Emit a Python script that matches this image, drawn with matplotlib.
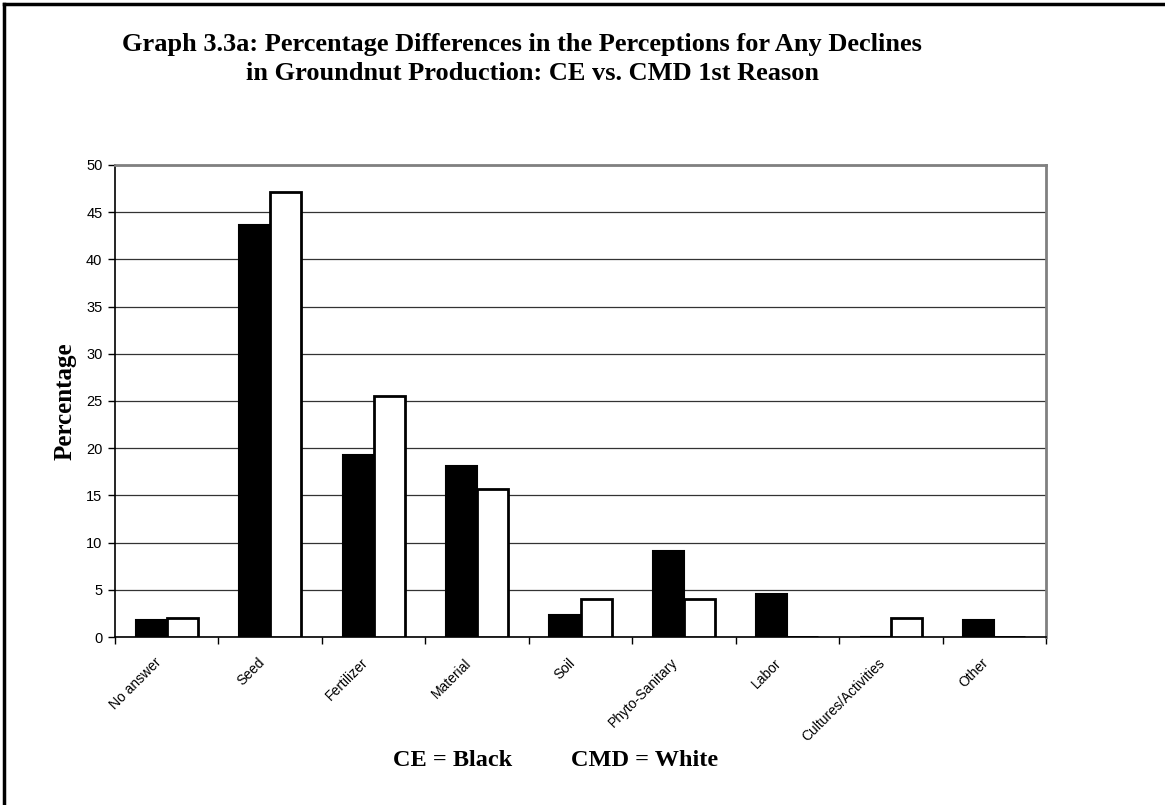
import numpy as np
import matplotlib
matplotlib.use("Agg")
import matplotlib.pyplot as plt
import matplotlib.transforms as mtransforms
from matplotlib.lines import Line2D

categories = ["No answer", "Seed", "Fertilizer", "Material", "Soil",
              "Phyto-Sanitary", "Labor", "Cultures/Activities", "Other"]
ce_values = [1.8, 43.6, 19.3, 18.1, 2.3, 9.1, 4.6, 0.0, 1.8]
cmd_values = [2.0, 47.1, 25.5, 15.7, 4.0, 4.0, 0.0, 2.0, 0.0]
y_ticks = [0, 5, 10, 15, 20, 25, 30, 35, 40, 45, 50]

W, H = 1165, 805
fig = plt.figure(figsize=(W / 100, H / 100), dpi=100)
fig.patch.set_facecolor("white")

# plot area in pixel terms
left, right, top, bottom = 115, 1046, 165, 637
ax = fig.add_axes([left / W, 1 - bottom / H, (right - left) / W, (bottom - top) / H])

x = np.arange(len(categories))
w = 0.3
ax.bar(x - w / 2, ce_values, w, color="black", edgecolor="black", linewidth=1.5, zorder=3)
ax.bar(x + w / 2, cmd_values, w, color="white", edgecolor="black", linewidth=2, zorder=3)

ax.set_xlim(-0.5, len(categories) - 0.5)
ax.set_ylim(0, 50)
ax.set_yticks(y_ticks)
ax.set_yticklabels([str(v) for v in y_ticks], fontfamily="Liberation Sans", fontsize=10.5)
ax.yaxis.grid(True, color="#333333", linewidth=0.9, zorder=0)
ax.tick_params(axis="y", direction="out", length=5, width=1, pad=4)

# ticks between categories, labels at the centre
ax.set_xticks(np.arange(-0.5, len(categories), 1))
ax.set_xticklabels([])
ax.tick_params(axis="x", which="major", direction="out", length=5, width=1)
ax.set_xticks(x, minor=True)
ax.set_xticklabels(categories, minor=True, rotation=45, ha="right", va="center",
                   rotation_mode="anchor", fontfamily="Liberation Sans", fontsize=10)
ax.tick_params(axis="x", which="minor", length=0, pad=17)
shift = mtransforms.ScaledTranslation(-8 / 100, 0, fig.dpi_scale_trans)
for lab in ax.get_xticklabels(minor=True):
    lab.set_transform(lab.get_transform() + shift)

for s in ["top", "right"]:
    ax.spines[s].set_color("#808080")
    ax.spines[s].set_linewidth(2)
for s in ["left", "bottom"]:
    ax.spines[s].set_color("black")
    ax.spines[s].set_linewidth(1.2)

ax.set_ylabel("Percentage", fontfamily="Liberation Serif", fontweight="bold", fontsize=18, labelpad=7)

fig.text(522 / W, 1 - 44 / H,
         "Graph 3.3a: Percentage Differences in the Perceptions for Any Declines",
         ha="center", va="center", fontfamily="Liberation Serif", fontweight="bold", fontsize=19)
fig.text(532 / W, 1 - 73 / H,
         "in Groundnut Production: CE vs. CMD 1st Reason",
         ha="center", va="center", fontfamily="Liberation Serif", fontweight="bold", fontsize=19)

fig.text(453 / W, 1 - 760 / H, "CE = Black", ha="center", va="center",
         fontfamily="Liberation Serif", fontweight="bold", fontsize=17.5)
fig.text(645 / W, 1 - 760 / H, "CMD = White", ha="center", va="center",
         fontfamily="Liberation Serif", fontweight="bold", fontsize=17.5)

# outer frame (top and left edges visible)
fig.add_artist(Line2D([4 / W, 1.0], [1 - 4 / H, 1 - 4 / H], color="black", linewidth=2.5))
fig.add_artist(Line2D([4 / W, 4 / W], [0.0, 1 - 4 / H], color="black", linewidth=2.5))

fig.savefig("out.png", dpi=100, facecolor="white")
